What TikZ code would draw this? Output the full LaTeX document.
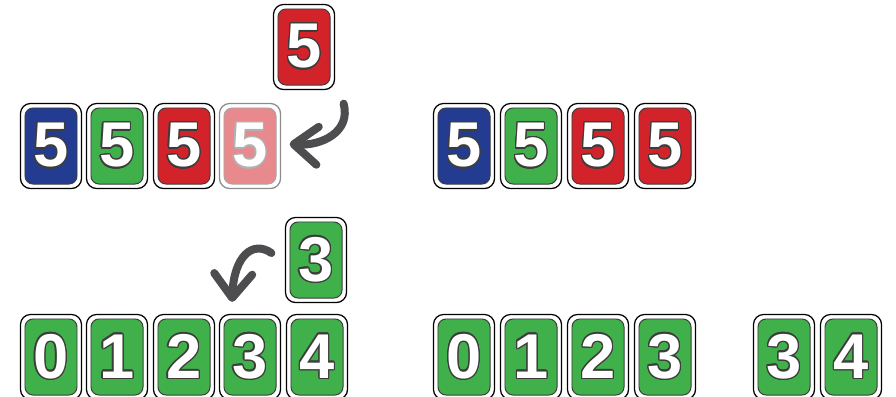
\documentclass[tikz,border=0pt]{standalone}
\usepackage{fontspec}
\setsansfont{Liberation Sans}
\usepackage{contour}
\contourlength{1pt}
\usetikzlibrary{arrows.meta,calc}

\definecolor{cblue}{RGB}{35,60,145}
\definecolor{cgreen}{RGB}{64,176,74}
\definecolor{cred}{RGB}{210,35,42}
\definecolor{cpink}{RGB}{232,137,141}
\definecolor{rimgray}{RGB}{60,60,60}
\definecolor{arrowgray}{RGB}{77,77,79}

\tikzset{
  cardbox/.style={draw=black,line width=0.9pt,fill=white,rounded corners=0.25cm,
    minimum width=1.525cm,minimum height=2.125cm,inner sep=0pt},
  cardface/.style={draw=rimgray,line width=0.7pt,fill=#1,rounded corners=0.2cm,
    minimum width=1.3cm,minimum height=1.9cm,inner sep=0pt,text=white,
    font=\sffamily\bfseries\fontsize{45}{45}\selectfont},
  bendarrow/.style={draw=arrowgray,line width=0.2cm,line cap=round,
    -{Straight Barb[length=0.6cm,width=0.95cm,round]}}
}

\begin{document}
\begin{tikzpicture}[x=0.025cm,y=-0.025cm]
  \useasboundingbox (0,0) rectangle (896,396);

  % incoming card and the hand before
  \node[cardbox] (top5) at (304,47) {};
  \node[cardface=cred] at (top5) {\contour{rimgray}{5}};
  \foreach \x/\col [count=\i] in {51/cblue,117/cgreen,184/cred} {
    \node[cardbox] (h\i) at (\x,146) {};
    \node[cardface=\col] at (h\i) {\contour{rimgray}{5}};
  }
  \node[cardbox,draw=black!45] (h4) at (250,146) {};
  \node[cardface=cpink,draw=rimgray!45] at (h4) {\contour{rimgray!40}{5}};

  % hand after
  \foreach \x/\col [count=\i] in {464/cblue,531/cgreen,598/cred,665/cred} {
    \node[cardbox] (k\i) at (\x,146) {};
    \node[cardface=\col] at (k\i) {\contour{rimgray}{5}};
  }

  % second case
  \node[cardbox] (three) at (316,260) {};
  \node[cardface=cgreen] at (three) {\contour{rimgray}{3}};
  \foreach \x [count=\i from 0] in {51,117,184,250,317} {
    \node[cardbox] (b\i) at (\x,357) {};
    \node[cardface=cgreen] at (b\i) {\contour{rimgray}{\i}};
  }
  \foreach \x [count=\i from 0] in {464,531,598,665} {
    \node[cardbox] (s\i) at (\x,357) {};
    \node[cardface=cgreen] at (s\i) {\contour{rimgray}{\i}};
  }
  \foreach \x [count=\i from 3] in {784,851} {
    \node[cardbox] (e\i) at (\x,357) {};
    \node[cardface=cgreen] at (e\i) {\contour{rimgray}{\i}};
  }

  % arrows
  \draw[bendarrow] ($(top5.south east)+(8.5,13.5)$)
    .. controls ($(top5.south east)+(16,42)$) and ($(h4.east)+(40,0)$) .. ($(h4.east)+(8.5,-2)$);
  \draw[bendarrow] ($(three.west)+(-13.5,-7)$)
    .. controls ($(three.west)+(-32,-20)$) and ($(b3.north)+(-16,-58)$) .. ($(b3.north)+(-18,-12)$);
\end{tikzpicture}
\end{document}
